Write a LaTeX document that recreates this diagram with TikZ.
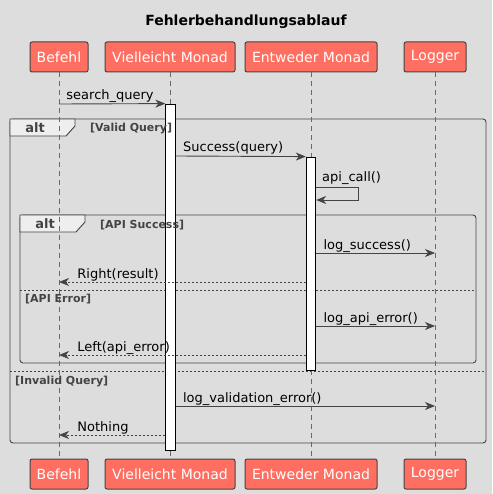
\documentclass[tikz,border=0pt]{standalone}
\usepackage{fontspec}
\setmainfont{DejaVu Sans}
\usetikzlibrary{arrows.meta}
\definecolor{bg}{HTML}{DDDDDD}
\definecolor{partfill}{HTML}{FF6F61}
\definecolor{ln}{HTML}{444444}
\definecolor{tabfill}{HTML}{EEEEEE}
\definecolor{guard}{HTML}{444444}
\tikzset{
  part/.style={draw=ln, fill=partfill, rounded corners=2pt, line width=1pt, minimum height=30pt, inner sep=0pt, text=white, font=\fontsize{14}{16}\selectfont},
  life/.style={draw=ln!80, dash pattern=on 5pt off 4pt, line width=0.7pt},
  act/.style={draw=black, fill=white, line width=0.8pt, minimum width=9.5pt, inner sep=0pt},
  msg/.style={draw=ln, line width=0.9pt, -{Stealth[length=10pt,width=8pt,inset=3pt]}},
  ret/.style={msg, dash pattern=on 2pt off 2pt},
  lbl/.style={font=\fontsize{13}{15}\selectfont, inner sep=0pt, anchor=base west, text=black},
  frame/.style={draw=ln, line width=0.9pt, rounded corners=3pt},
  tab/.style={draw=ln, fill=tabfill, line width=0.9pt},
  tablbl/.style={font=\bfseries\fontsize{13}{15}\selectfont, text=guard, inner sep=0pt},
  guardlbl/.style={font=\bfseries\fontsize{11}{13}\selectfont, text=guard, inner sep=0pt, anchor=base west},
  sep/.style={draw=ln, line width=0.7pt, dash pattern=on 2pt off 2pt},
}
\begin{document}
\begin{tikzpicture}[x=1pt,y=-1pt]
\fill[bg] (0,0) rectangle (492,494);
\useasboundingbox (0,0) rectangle (492,494);

% title
\node[font=\bfseries\fontsize{14}{16}\selectfont, inner sep=0pt] (title) at (246,22) {Fehlerbehandlungsablauf};

% frames (drawn first)
\node[coordinate] (o1) at (10,119) {};
\node[coordinate] (o2) at (486,443) {};
\draw[frame] (o1) rectangle (o2);
\draw[tab] (10,119) -- (75,119) -- (75,126) -- (66,136) -- (10,136) -- cycle;
\draw[sep] (10,371) -- (486,371);

\node[coordinate] (i1) at (20,215) {};
\node[coordinate] (i2) at (476,363) {};
\draw[frame] (i1) rectangle (i2);
\draw[tab] (20,215) -- (85,215) -- (85,222) -- (76,232) -- (20,232) -- cycle;
\draw[sep] (20,290) -- (476,290);

% participants
\node[part, minimum width=58pt] (befT) at (59,57) {Befehl};
\node[part, minimum width=130pt] (vieT) at (170,57) {Vielleicht Monad};
\node[part, minimum width=132pt] (entT) at (311,57) {Entweder Monad};
\node[part, minimum width=62pt] (logT) at (435,57) {Logger};
\node[part, minimum width=58pt] (befB) at (59,474) {Befehl};
\node[part, minimum width=130pt] (vieB) at (170,474) {Vielleicht Monad};
\node[part, minimum width=132pt] (entB) at (311,474) {Entweder Monad};
\node[part, minimum width=62pt] (logB) at (435,474) {Logger};

\draw[life] (befT) -- (befB);
\draw[life] (vieT) -- (vieB);
\draw[life] (entT) -- (entB);
\draw[life] (logT) -- (logB);

% activations
\node[act, minimum height=346pt] (actV) at (170.5,277) {};
\node[act, minimum height=213pt] (actE) at (311,263.5) {};

% frame labels (over the activation bars)
\node[tablbl] (altO) at (35,128) {alt};
\node[guardlbl] (gValid) at (90,132) {[Valid Query]};
\node[guardlbl] (gInvalid) at (15,384) {[Invalid Query]};
\node[tablbl] (altI) at (45,224) {alt};
\node[guardlbl] (gSucc) at (100,228) {[API Success]};
\node[guardlbl] (gErr) at (25,302) {[API Error]};

% coordinates on lifelines
\coordinate (b104) at (59,104);
\coordinate (b282) at (59,282);
\coordinate (b355) at (59,355);
\coordinate (b435) at (59,435);
\coordinate (l253) at (435,253);
\coordinate (l326) at (435,326);
\coordinate (l406) at (435,406);
\coordinate (s1) at (358,187);
\coordinate (s2) at (358,200);

% messages
\draw[msg] (b104) -- (actV.north west) node[lbl, pos=0, xshift=7pt, yshift=4pt] {search\_query};
\draw[msg] (actV.east |- 0,156) -- (actE.north west) node[lbl, pos=0, xshift=7pt, yshift=4pt] {Success(query)};
\draw[msg] (actE.east |- 0,187) -- (s1) -- (s2) -- (actE.east |- s2);
\node[lbl] (lapi) at (322,182) {api\_call()};
\draw[msg] (actE.east |- l253) -- (l253) node[lbl, pos=0, xshift=7pt, yshift=4pt] {log\_success()};
\draw[ret] (actE.west |- b282) -- (b282) node[lbl, pos=1, xshift=18pt, yshift=4pt] {Right(result)};
\draw[msg] (actE.east |- l326) -- (l326) node[lbl, pos=0, xshift=7pt, yshift=4pt] {log\_api\_error()};
\draw[ret] (actE.west |- b355) -- (b355) node[lbl, pos=1, xshift=18pt, yshift=4pt] {Left(api\_error)};
\draw[msg] (actV.east |- l406) -- (l406) node[lbl, pos=0, xshift=7pt, yshift=4pt] {log\_validation\_error()};
\draw[ret] (actV.west |- b435) -- (b435) node[lbl, pos=1, xshift=18pt, yshift=4pt] {Nothing};
\end{tikzpicture}
\end{document}
